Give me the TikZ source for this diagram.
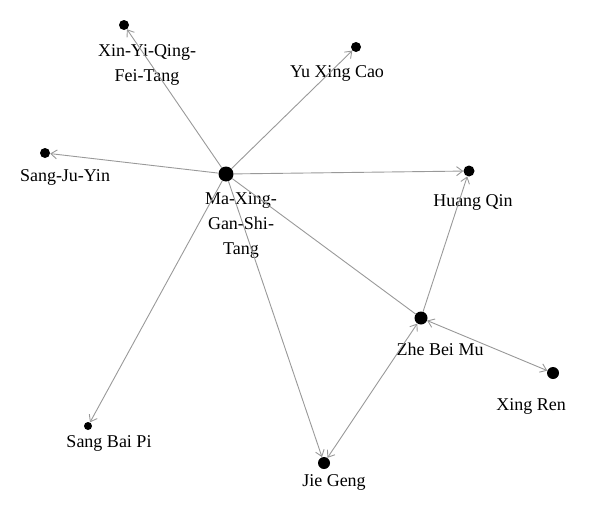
\documentclass[tikz,border=0pt]{standalone}
\usepackage{fontspec}
\setmainfont{Liberation Serif}
\usetikzlibrary{arrows.meta}

\begin{document}
\begin{tikzpicture}[x=1pt,y=-1pt,
  herb/.style={circle,fill=black,inner sep=0pt,minimum size=#1},
  lbl/.style={font=\fontsize{18}{25}\selectfont,align=center,inner sep=0pt},
  link/.style={draw=black!40,line width=0.9pt,-{Straight Barb[length=6pt,width=9pt]}},
  twoway/.style={link,{Straight Barb[length=6pt,width=9pt]}-{Straight Barb[length=6pt,width=9pt]}}]
\useasboundingbox (0,0) rectangle (600,514);
% Herbs (dots)
\node[herb=15pt] (ma) at (226,174) {};
\node[herb=10pt] (xin) at (124,25) {};
\node[herb=10pt] (yu) at (356,47) {};
\node[herb=10pt] (sangju) at (45,153) {};
\node[herb=11pt] (huang) at (469,171) {};
\node[herb=13pt] (zhe) at (421,318) {};
\node[herb=12pt] (xing) at (553,373) {};
\node[herb=12pt] (jie) at (324,463) {};
\node[herb=8pt] (sangbai) at (88,426) {};

% Names
\node[lbl] (maL) at (241,225) {Ma-Xing-\\Gan-Shi-\\Tang};
\node[lbl] (xinL) at (147,65) {Xin-Yi-Qing-\\Fei-Tang};
\node[lbl] (yuL) at (337,73) {Yu Xing Cao};
\node[lbl] (sangjuL) at (65,177) {Sang-Ju-Yin};
\node[lbl] (huangL) at (473,202) {Huang Qin};
\node[lbl] (zheL) at (440,349) {Zhe Bei Mu};
\node[lbl] (xingL) at (531,406) {Xing Ren};
\node[lbl] (jieL) at (334,482) {Jie Geng};
\node[lbl] (sangbaiL) at (109,443) {Sang Bai Pi};

% Links
\draw[link] (ma) -- (xin);
\draw[link] (ma) -- (yu);
\draw[link] (ma) -- (sangju);
\draw[link] (ma) -- (huang);
\draw[link] (ma) -- (sangbai);
\draw[link] (ma) -- (jie);
\draw[link,-] (ma) -- (zhe);
\draw[link] (zhe) -- (huang);
\draw[twoway] (zhe) -- (xing);
\draw[twoway] (zhe) -- (jie);
\end{tikzpicture}
\end{document}
